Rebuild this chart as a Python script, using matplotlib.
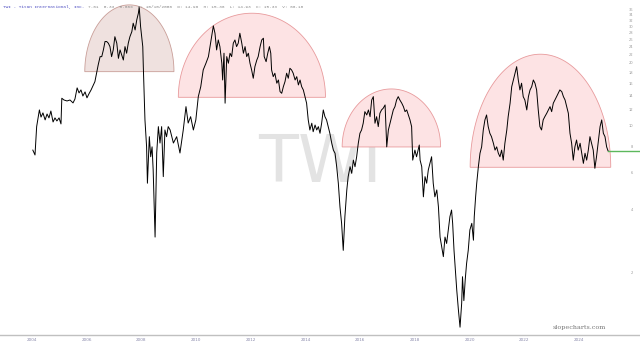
import numpy as np
import matplotlib
matplotlib.use("Agg")
import matplotlib.pyplot as plt

# price history (decimal year, close)
years = [
    2004.03, 2004.11, 2004.17, 2004.27, 2004.33, 2004.40, 2004.48, 2004.55, 2004.62, 2004.69,
    2004.77, 2004.84, 2004.91, 2004.99, 2005.06, 2005.09, 2005.17, 2005.28, 2005.39, 2005.50,
    2005.57, 2005.65, 2005.72, 2005.79, 2005.86, 2005.94, 2006.01, 2006.08, 2006.16, 2006.30,
    2006.42, 2006.49, 2006.55, 2006.61, 2006.67, 2006.73, 2006.79, 2006.85, 2006.91, 2006.97,
    2007.03, 2007.10, 2007.16, 2007.22, 2007.28, 2007.34, 2007.40, 2007.46, 2007.52, 2007.58,
    2007.65, 2007.70, 2007.77, 2007.83, 2007.89, 2007.92, 2007.97, 2008.01, 2008.05, 2008.07,
    2008.13, 2008.19, 2008.22, 2008.29, 2008.34, 2008.39, 2008.43, 2008.50, 2008.56, 2008.62,
    2008.68, 2008.74, 2008.80, 2008.86, 2008.92, 2008.98,
    2009.05, 2009.17, 2009.29, 2009.41, 2009.53, 2009.63, 2009.71, 2009.80, 2009.90, 2009.99,
    2010.08, 2010.17, 2010.26, 2010.36, 2010.45, 2010.53, 2010.63, 2010.69, 2010.75, 2010.81,
    2010.87, 2010.94, 2010.97, 2011.02, 2011.06, 2011.12, 2011.18, 2011.24, 2011.30, 2011.36,
    2011.42, 2011.48, 2011.54, 2011.60, 2011.67, 2011.73, 2011.79, 2011.85, 2011.91, 2011.97,
    2012.03, 2012.09, 2012.15, 2012.22, 2012.27, 2012.34, 2012.40, 2012.46, 2012.49, 2012.56,
    2012.62, 2012.68, 2012.73, 2012.76, 2012.82, 2012.88, 2012.95, 2013.01, 2013.07, 2013.13,
    2013.19, 2013.25, 2013.31, 2013.37, 2013.43, 2013.49, 2013.55, 2013.62, 2013.68, 2013.74,
    2013.80, 2013.86, 2013.92, 2013.98, 2014.04, 2014.10, 2014.16, 2014.23, 2014.28, 2014.35,
    2014.41, 2014.47, 2014.53, 2014.59, 2014.65, 2014.71, 2014.77, 2014.83, 2014.89, 2014.96,
    2015.02, 2015.08, 2015.14, 2015.20, 2015.26, 2015.32, 2015.38, 2015.44, 2015.51, 2015.56,
    2015.63, 2015.69, 2015.75, 2015.81, 2015.87, 2015.93, 2015.99, 2016.05, 2016.11, 2016.17,
    2016.24, 2016.30, 2016.36, 2016.42, 2016.48, 2016.54, 2016.60, 2016.66, 2016.72, 2016.78,
    2016.84, 2016.91, 2016.97, 2017.03, 2017.09, 2017.15, 2017.21, 2017.27, 2017.33, 2017.39,
    2017.45, 2017.52, 2017.58, 2017.64, 2017.70, 2017.76, 2017.82, 2017.88, 2017.92, 2018.00,
    2018.06, 2018.16, 2018.19, 2018.25, 2018.31, 2018.37, 2018.43, 2018.49, 2018.55, 2018.61,
    2018.67, 2018.73, 2018.80, 2018.86, 2018.92, 2018.98, 2019.04, 2019.10, 2019.16, 2019.22,
    2019.28, 2019.34, 2019.38, 2019.43, 2019.48, 2019.53, 2019.59, 2019.65, 2019.71, 2019.74,
    2019.79, 2019.84, 2019.89, 2019.95, 2020.01, 2020.08, 2020.14, 2020.17, 2020.22, 2020.26,
    2020.32, 2020.38, 2020.44, 2020.50, 2020.56, 2020.62, 2020.68, 2020.74, 2020.80, 2020.87,
    2020.93, 2020.99, 2021.05, 2021.11, 2021.17, 2021.23, 2021.29, 2021.36, 2021.41, 2021.48,
    2021.54, 2021.60, 2021.66, 2021.72, 2021.78, 2021.84, 2021.90, 2021.96, 2022.02, 2022.09,
    2022.15, 2022.21, 2022.27, 2022.33, 2022.39, 2022.45, 2022.51, 2022.57, 2022.63, 2022.69,
    2022.75, 2022.82, 2022.88, 2022.94, 2023.00, 2023.06, 2023.12, 2023.18, 2023.24, 2023.30,
    2023.37, 2023.43, 2023.49, 2023.55, 2023.61, 2023.67, 2023.73, 2023.79, 2023.85, 2023.91,
    2023.97, 2024.04, 2024.10, 2024.16, 2024.22, 2024.28, 2024.34, 2024.40, 2024.46, 2024.52,
    2024.58, 2024.64, 2024.70, 2024.77, 2024.83, 2024.89, 2024.95, 2025.01, 2025.06,
]
prices = [
    7.66, 7.26, 9.92, 11.92, 11.02, 11.54, 10.68, 11.40, 10.92, 11.78,
    10.44, 10.92, 10.56, 10.92, 10.22, 13.56, 13.30, 13.16, 13.30, 12.88,
    13.44, 15.20, 14.38, 14.86, 13.90, 14.54, 13.62, 14.22, 14.86, 16.28,
    19.56, 21.44, 21.44, 23.08, 25.32, 25.32, 24.86, 23.94, 21.44, 23.08,
    26.70, 24.86, 21.04, 23.08, 21.84, 20.66, 23.94, 22.26, 24.86, 26.70,
    28.22, 30.98, 28.76, 32.12, 34.60, 37.00, 29.84, 26.70, 23.94, 19.20,
    10.68, 7.94, 5.32, 8.88, 7.12, 7.94, 6.16, 2.94, 7.42, 9.92,
    8.28, 9.92, 5.72, 9.56, 8.88, 9.92,
    9.56, 8.28, 8.88, 7.42, 9.56, 12.36, 10.32, 11.07, 9.56, 10.68,
    13.80, 15.40, 18.52, 19.94, 21.44, 24.86, 30.08, 27.74, 23.08, 25.76,
    23.94, 19.94, 16.58, 22.26, 12.84, 21.44, 19.94, 22.26, 21.44, 24.86,
    25.76, 23.94, 24.86, 27.74, 24.86, 22.26, 23.94, 21.44, 22.26, 19.94,
    18.52, 16.90, 19.20, 20.66, 21.44, 23.94, 25.76, 26.26, 21.44, 20.28,
    22.26, 23.94, 22.26, 18.52, 17.20, 17.86, 16.00, 16.58, 14.58, 14.32,
    15.40, 16.28, 17.86, 16.90, 18.86, 18.52, 17.86, 16.58, 17.20, 15.70,
    16.58, 15.40, 14.86, 13.80, 12.84, 10.68, 9.56, 10.30, 9.38, 10.10,
    9.56, 9.92, 9.22, 10.30, 11.92, 11.07, 10.68, 9.92, 9.22, 8.26,
    7.66, 7.40, 6.38, 5.32, 4.10, 3.42, 2.54, 3.68, 4.94, 5.72,
    6.38, 5.93, 6.86, 6.38, 7.12, 8.26, 9.22, 9.56, 10.30, 11.70,
    11.28, 11.92, 11.07, 13.30, 13.80, 10.30, 11.07, 9.92, 11.49, 11.92,
    12.14, 12.60, 7.94, 9.56, 10.30, 11.07, 11.92, 12.36, 13.30, 13.80,
    13.30, 12.84, 12.36, 11.70, 11.92, 11.28, 10.68, 9.92, 6.86, 7.66,
    7.12, 8.10, 6.86, 6.38, 4.58, 5.72, 5.32, 6.16, 6.62, 7.12,
    5.32, 4.58, 4.94, 4.10, 2.94, 2.64, 2.37, 2.94, 2.74, 3.18,
    3.68, 3.96, 3.42, 2.54, 2.04, 1.64, 1.32, 1.09, 1.42, 1.90,
    1.46, 1.84, 2.20, 2.54, 3.18, 3.42, 2.84, 3.68, 4.58, 5.32,
    6.38, 7.40, 7.94, 9.56, 10.68, 11.28, 9.92, 9.22, 8.88, 8.26,
    7.66, 7.94, 7.40, 7.12, 7.66, 6.86, 8.26, 9.56, 11.07, 12.84,
    15.40, 16.58, 17.86, 19.20, 16.58, 14.86, 16.00, 13.80, 13.30, 11.92,
    13.80, 14.86, 15.40, 16.58, 16.00, 14.86, 11.92, 9.92, 9.56, 10.68,
    11.07, 11.49, 11.92, 12.36, 11.70, 12.84, 13.30, 13.80, 14.32, 14.86,
    14.58, 13.80, 13.30, 12.36, 11.49, 9.22, 8.26, 6.86, 7.94, 8.56,
    7.66, 8.26, 7.40, 6.62, 7.40, 6.86, 7.66, 8.88, 8.26, 7.66,
    6.27, 7.12, 8.26, 9.92, 10.68, 9.22, 8.88, 7.94, 7.61,
]

# hand-drawn half-ellipses: centre year, half width (years), base price, top price
arc_centres = [2007.56, 2012.04, 2017.14, 2022.59]
arc_halfwidths = [1.63, 2.69, 1.80, 2.57]
arc_bases = [18.17, 13.70, 7.93, 6.34]
arc_tops = [37.9, 34.58, 15.02, 22.02]
arc_fills = ["#efe1df", "#fde3e4", "#fde3e4", "#fde3e4"]
arc_edges = ["#c99e98", "#e89a9c", "#e89a9c", "#e89a9c"]

year_ticks = [2004, 2006, 2008, 2010, 2012, 2014, 2016, 2018, 2020, 2022, 2024]
price_ticks = [2, 4, 6, 8, 10, 12, 14, 16, 18, 20, 22, 24, 26, 28, 30, 32, 34, 36]

last_price = prices[-1]

fig = plt.figure(figsize=(6.4, 3.43), dpi=100)
ax = fig.add_axes([0, 8 / 343, 1, 335 / 343])
ax.set_yscale("log")
ax.set_xlim(2002.83, 2026.23)
ax.set_ylim(1, 40)

# watermark
ax.text(0.5, 0.51, "TWI", transform=ax.transAxes, ha="center", va="center",
        fontsize=47, color="#e3e3e3", zorder=0)

# half-ellipses
t = np.linspace(0, np.pi, 120)
for cx, hw, base, top, fc, ec in zip(arc_centres, arc_halfwidths, arc_bases,
                                     arc_tops, arc_fills, arc_edges):
    xs = cx + hw * np.cos(t)
    ys = 10 ** (np.log10(base) + (np.log10(top) - np.log10(base)) * np.sin(t))
    xs = np.append(xs, xs[0])
    ys = np.append(ys, ys[0])
    ax.fill(xs, ys, facecolor=fc, edgecolor=ec, linewidth=0.6, zorder=1)

ax.plot(years, prices, color="black", linewidth=0.7, zorder=3)
ax.plot([years[-1], 2026.23], [last_price, last_price], color="#5cb85c",
        linewidth=1.0, zorder=2)

# axes styling
for side in ["top", "left", "right"]:
    ax.spines[side].set_visible(False)
ax.spines["bottom"].set_color("#c0c0c0")
ax.spines["bottom"].set_linewidth(1.0)

ax.set_xticks(year_ticks)
ax.set_xticklabels([str(y) for y in year_ticks])
ax.tick_params(axis="x", length=0, pad=2, labelsize=3, labelcolor="#8888aa")

ax.yaxis.tick_right()
ax.yaxis.set_minor_locator(matplotlib.ticker.NullLocator())
ax.set_yticks(price_ticks)
ax.set_yticklabels([str(p) for p in price_ticks])
ax.tick_params(axis="y", length=0, pad=-5, labelsize=2.6, labelcolor="#999999")
for lbl in ax.get_yticklabels():
    lbl.set_horizontalalignment("right")

# header
fig.text(0.004, 0.985, "TWI - Titan International, Inc.", fontsize=3.2,
         family="Liberation Mono", color="#4a4ac0", va="top")
fig.text(0.137, 0.985,
         "7.61  0.33  0.66%  D: 10/10/2006  O: 14.96  H: 15.36  L: 14.93  C: 15.33  V: 66.18",
         fontsize=3.2, family="Liberation Mono", color="#888888", va="top")

fig.text(0.905, 0.044, "slopecharts.com", fontsize=4.6, family="DejaVu Serif",
         color="#777777", ha="center", va="center")

fig.savefig("out.png", dpi=100)
